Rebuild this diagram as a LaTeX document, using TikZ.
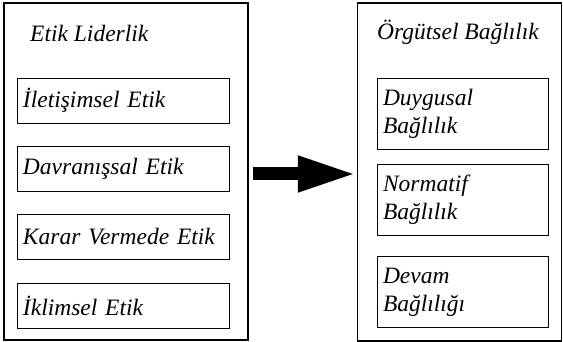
\documentclass[tikz,border=0pt]{standalone}
\usepackage{fontspec}
\setmainfont{Liberation Serif}[ItalicFont={Liberation Serif Italic}]
\usetikzlibrary{arrows.meta}

\tikzset{
  bigbox/.style={draw, line width=1.4pt, inner sep=0pt},
  dimbox/.style={draw, line width=0.8pt, inner sep=6pt, align=left,
    font=\fontsize{23.5}{28}\selectfont\itshape},
  lefttxt/.style={dimbox, text width=200pt, minimum width=212pt, minimum height=45pt},
  righttxt/.style={dimbox, text width=159pt, minimum width=171pt, minimum height=71pt},
  heading/.style={anchor=base west, inner sep=0pt, font=\fontsize{23.5}{28}\selectfont\itshape}
}

\begin{document}
\begin{tikzpicture}[x=1pt, y=-1pt]
\useasboundingbox (0,0) rectangle (563,342);

% outer frames
\node[bigbox, minimum width=244pt, minimum height=337pt] (etik) at (126,171.5) {};
\node[bigbox, minimum width=204pt, minimum height=338pt] (orgut) at (459.5,172) {};

\node[heading] (etiktitle) at (30,42) {Etik Liderlik};
\node[heading] (orguttitle) at (377,40) {Örgütsel Bağlılık};

% sub dimensions, left
\node[lefttxt] (iletisim) at (123,100.5) {İletişimsel Etik};
\node[lefttxt] (davranis) at (123,168.5) {Davranışsal Etik};
\node[lefttxt] (karar) at (123,236.5) {Karar Vermede Etik};
\node[lefttxt] (iklim) at (123,305.5) {İklimsel Etik};

% sub dimensions, right
\node[righttxt] (duygusal) at (462.5,113.5) {Duygusal\\Bağlılık};
\node[righttxt] (normatif) at (462.5,200) {Normatif\\Bağlılık};
\node[righttxt] (devam) at (462.5,292) {Devam\\Bağlılığı};

\draw[line width=13pt, -{Triangle[length=59pt, width=33pt]}]
  ([xshift=4pt, yshift=-2.5pt]etik.east) -- ([yshift=-2pt]orgut.west);

\end{tikzpicture}
\end{document}
